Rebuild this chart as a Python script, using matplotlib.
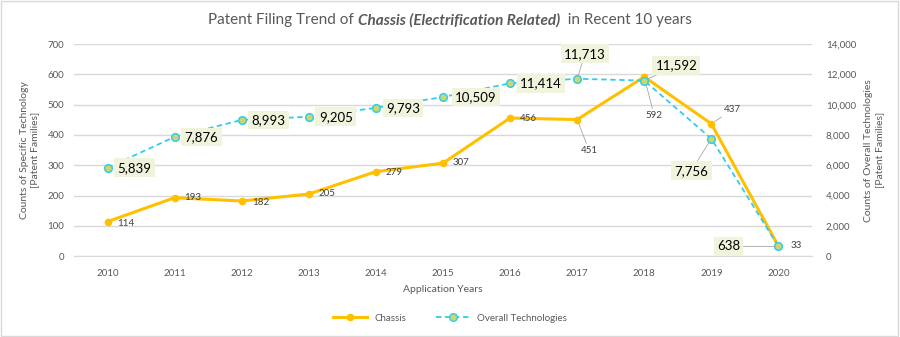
import matplotlib.pyplot as plt
from matplotlib.offsetbox import TextArea, HPacker, AnchoredOffsetbox
from matplotlib.lines import Line2D

plt.rcParams['font.family'] = ['Lato', 'DejaVu Sans']

# Data
years = ['2010', '2011', '2012', '2013', '2014', '2015', '2016', '2017', '2018', '2019', '2020']
chassis = [114, 193, 182, 205, 279, 307, 456, 451, 592, 437, 33]
overall = [5839, 7876, 8993, 9205, 9793, 10509, 11414, 11713, 11592, 7756, 638]

# label offsets in pixels (dx, dy, ha)
chassis_offsets = [(10, -2, 'left'), (10, 0, 'left'), (10, -1, 'left'), (10, 1, 'left'),
                   (10, -1, 'left'), (10, 1, 'left'), (10, 0, 'left'), (12, -31, 'center'),
                   (10, -39, 'center'), (21, 14, 'center'), (12, 1, 'left')]
overall_offsets = [(10, 0, 'left'), (10, 0, 'left'), (10, 0, 'left'), (10, 0, 'left'),
                   (10, 0, 'left'), (12, 0, 'left'), (10, 0, 'left'), (8, 25, 'center'),
                   (32, 15, 'center'), (-20, -32, 'center'), (-50, 0, 'center')]

gold = '#FFC000'
blue = '#33CCEE'
green = '#C9D86A'
grey = '#595959'

fig = plt.figure(figsize=(9, 3.37), dpi=100)
fig.patches.append(plt.Rectangle((0.001, 0.002), 0.997, 0.995, transform=fig.transFigure,
                                 fill=False, edgecolor='#D9D9D9', lw=1))
ax = fig.add_axes([0.0822, 0.240, 0.820, 0.629])
ax2 = ax.twinx()

x = list(range(len(years)))
ax.plot(x, chassis, color=gold, lw=2.2, marker='o', ms=4.5, zorder=3)
ax2.plot(x, overall, color=blue, lw=1.3, ls=(0, (3, 2)), marker='o', ms=5.5,
         markerfacecolor=green, markeredgecolor=blue, markeredgewidth=1.1, zorder=3)

ax.set_xlim(-0.5, len(years) - 0.5)
ax.set_ylim(0, 700)
ax2.set_ylim(0, 14000)
ax.set_yticks(range(0, 701, 100))
ax2.set_yticks(range(0, 14001, 2000))
ax2.set_yticklabels([f'{v:,}' for v in range(0, 14001, 2000)])
ax.set_xticks(x)
ax.set_xticklabels(years)
ax.grid(axis='y', color='#D9D9D9', lw=1)
ax.set_axisbelow(True)
for a in (ax, ax2):
    for s in a.spines.values():
        s.set_visible(False)
    a.tick_params(length=0, labelsize=7, labelcolor=grey)
ax.tick_params(axis='x', pad=9)
ax.tick_params(axis='y', pad=7)
ax2.tick_params(axis='y', pad=10)
ax2.spines['bottom'].set_visible(True)
ax2.spines['bottom'].set_color('#D9D9D9')

ax.set_xlabel('Application Years', fontsize=7.5, color=grey, labelpad=5)
ax.set_ylabel('Counts of Specific Technology\n[Patent Families]', fontsize=7.5, color=grey,
              labelpad=6)
ax2.set_ylabel('Counts of Overall Technologies\n[Patent Families]', fontsize=7.5, color=grey,
               labelpad=6, rotation=90)

leader = dict(arrowstyle='-', color='#A6A6A6', lw=0.6, shrinkA=0, shrinkB=3)
for i, v in enumerate(chassis):
    dx, dy, ha = chassis_offsets[i]
    ax.annotate(f'{v:,}', (i, v), xytext=(dx, dy), textcoords='offset pixels',
                ha=ha, va='center', fontsize=7, color='#404040',
                arrowprops=leader if abs(dy) > 8 else None, zorder=4)
for i, v in enumerate(overall):
    dx, dy, ha = overall_offsets[i]
    ax2.annotate(f'{v:,}', (i, v), xytext=(dx, dy), textcoords='offset pixels',
                 ha=ha, va='center', fontsize=9.5, color='#000000',
                 bbox=dict(boxstyle='square,pad=0.25', fc='#F1F4DD', ec='none'),
                 arrowprops=leader if (abs(dy) > 8 or abs(dx) > 30) else None, zorder=4)

# title with mixed styles
parts = [TextArea('Patent Filing Trend of ', textprops=dict(fontsize=11, color=grey)),
         TextArea('Chassis (Electrification Related)',
                  textprops=dict(fontsize=11, color=grey, fontweight='bold', fontstyle='italic')),
         TextArea('  in Recent 10 years', textprops=dict(fontsize=11, color=grey))]
box = HPacker(children=parts, align='baseline', pad=0, sep=0)
fig.add_artist(AnchoredOffsetbox(loc='center', child=box, frameon=False,
                                 bbox_to_anchor=(0.5, 0.94), bbox_transform=fig.transFigure))

handles = [Line2D([], [], color=gold, lw=2.2, marker='o', ms=4.5),
           Line2D([], [], color=blue, lw=1.3, ls=(0, (3, 2)), marker='o', ms=5.5,
                  markerfacecolor=green, markeredgecolor=blue)]
fig.legend(handles, ['Chassis', 'Overall Technologies'], loc='center', ncol=2,
           bbox_to_anchor=(0.5, 0.056), frameon=False, fontsize=7, labelcolor=grey,
           handlelength=3.5, columnspacing=3)

fig.savefig('out.png', dpi=100)
